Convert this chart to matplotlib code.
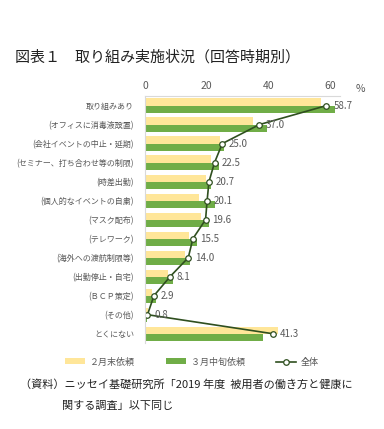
import matplotlib.pyplot as plt
import numpy as np

plt.rcParams['font.family'] = ['Noto Sans CJK JP', 'DejaVu Sans']

# データ
categories = ['取り組みあり', '(オフィスに消毒液設置)', '(会社イベントの中止・延期)',
              '(セミナー、打ち合わせ等の制限)', '(時差出勤)', '(個人的なイベントの自粛)',
              '(マスク配布)', '(テレワーク)', '(海外への渡航制限等)', '(出勤停止・自宅)',
              '(ＢＣＰ策定)', '(その他)', 'とくにない']
feb = [56.9, 35.1, 24.3, 21.4, 19.6, 17.6, 18.2, 14.2, 13.1, 7.4, 2.3, 1.0, 43.2]
mar = [61.4, 39.4, 25.7, 23.8, 21.4, 22.8, 20.6, 16.8, 14.6, 9.0, 3.5, 0.5, 38.3]
total = [58.7, 37.0, 25.0, 22.5, 20.7, 20.1, 19.6, 15.5, 14.0, 8.1, 2.9, 0.8, 41.3]

yellow = '#FFE699'
green = '#70AD47'
dark = '#2F4F1F'
gray = '#595959'

fig = plt.figure(figsize=(3.84, 4.29), dpi=100)
ax = fig.add_axes([0.3776, 0.200, 0.507, 0.576])

y = np.arange(len(categories))
h = 0.37
b1 = ax.barh(y - 0.19, feb, height=h, color=yellow, label='２月末依頼')
b2 = ax.barh(y + 0.19, mar, height=h, color=green, label='３月中旬依頼')
ln, = ax.plot(total, y, '-o', color=dark, lw=1.2, ms=4, mfc='white', mec=dark,
              mew=0.9, label='全体')

for v, yy in zip(total, y):
    ax.text(v + 2.2, yy, f'{v:.1f}', va='center', ha='left', fontsize=7, color=gray)

ax.set_xlim(0, 63)
ax.set_ylim(len(categories) - 0.5, -0.5)
ax.set_xticks([0, 20, 40, 60])
ax.xaxis.tick_top()
ax.tick_params(axis='x', length=0, labelsize=7.5, colors=gray, pad=4)
ax.set_yticks(y)
ax.set_yticklabels(categories, fontsize=5.8, color=gray)
ax.tick_params(axis='y', length=0, pad=8)
for s in ['right', 'bottom']:
    ax.spines[s].set_visible(False)
ax.spines['top'].set_color('#D9D9D9')
ax.spines['left'].set_color('#D9D9D9')

fig.text(360 / 384, 1 - 89 / 429, '%', fontsize=7.5, color=gray, ha='center', va='center')

fig.text(15 / 384, 1 - 57 / 429, '図表１　取り組み実施状況（回答時期別）', fontsize=10.8,
         ha='left', va='center', color='#222222')

fig.legend(handles=[b1, b2, ln], loc='center', bbox_to_anchor=(0.5, 1 - 362 / 429),
           ncol=3, frameon=False, fontsize=6.5, handlelength=2.2, handleheight=0.6,
           columnspacing=3.5, handletextpad=0.5, labelcolor=gray)

fig.text(20 / 384, 1 - 384 / 429, '（資料）ニッセイ基礎研究所「2019 年度  被用者の働き方と健康に',
         fontsize=8, ha='left', va='center', color='#222222')
fig.text(62 / 384, 1 - 406 / 429, '関する調査」以下同じ',
         fontsize=8, ha='left', va='center', color='#222222')

plt.savefig('out.png', dpi=100)
